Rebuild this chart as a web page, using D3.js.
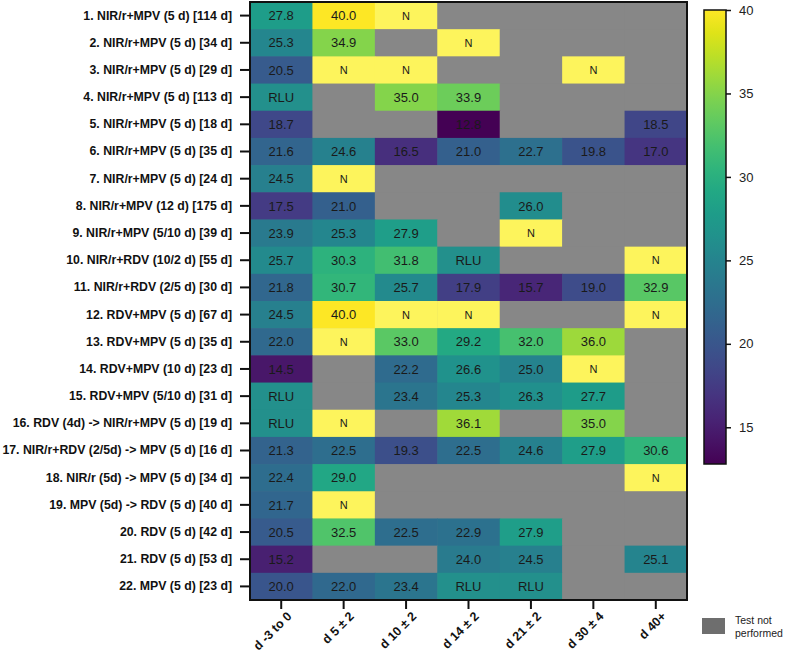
<!DOCTYPE html>
<html>
<head>
<meta charset="utf-8">
<style>
  html, body { margin: 0; padding: 0; background: #fff; }
  svg { display: block; font-family: "Liberation Sans", Arial, sans-serif; }
  .ylab text { font-weight: bold; font-size: 12.3px; fill: #111; }
  .xlab text { font-weight: bold; font-size: 12.5px; fill: #111; }
  .cell text { font-size: 13px; fill: #1a1a1a; }
  .cbar text { font-size: 13px; fill: #222; }
</style>
</head>
<body>
<div id="chart"></div>
<script src="https://d3js.org/d3.v7.min.js"></script>
<script>

var rows = [
  "1. NIR/r+MPV (5 d) [114 d]",
  "2. NIR/r+MPV (5 d) [34 d]",
  "3. NIR/r+MPV (5 d) [29 d]",
  "4. NIR/r+MPV (5 d) [113 d]",
  "5. NIR/r+MPV (5 d) [18 d]",
  "6. NIR/r+MPV (5 d) [35 d]",
  "7. NIR/r+MPV (5 d) [24 d]",
  "8. NIR/r+MPV (12 d) [175 d]",
  "9. NIR/r+MPV (5/10 d) [39 d]",
  "10. NIR/r+RDV (10/2 d) [55 d]",
  "11. NIR/r+RDV (2/5 d) [30 d]",
  "12. RDV+MPV (5 d) [67 d]",
  "13. RDV+MPV (5 d) [35 d]",
  "14. RDV+MPV (10 d) [23 d]",
  "15. RDV+MPV (5/10 d) [31 d]",
  "16. RDV (4d) -> NIR/r+MPV (5 d) [19 d]",
  "17. NIR/r+RDV (2/5d) -> MPV (5 d) [16 d]",
  "18. NIR/r (5d) -> MPV (5 d) [34 d]",
  "19. MPV (5d) -> RDV (5 d) [40 d]",
  "20. RDV (5 d) [42 d]",
  "21. RDV (5 d) [53 d]",
  "22. MPV (5 d) [23 d]"
];

var timepoints = ["d -3 to 0", "d 5 \u00b1 2", "d 10 \u00b1 2", "d 14 \u00b1 2", "d 21 \u00b1 2", "d 30 \u00b1 4", "d 40+"];

// null = test not performed, "N" = negative, "RLU" = reported in RLU
var values = [
  [27.8, 40.0, "N", null, null, null, null],
  [25.3, 34.9, null, "N", null, null, null],
  [20.5, "N", "N", null, null, "N", null],
  ["RLU", null, 35.0, 33.9, null, null, null],
  [18.7, null, null, 12.8, null, null, 18.5],
  [21.6, 24.6, 16.5, 21.0, 22.7, 19.8, 17.0],
  [24.5, "N", null, null, null, null, null],
  [17.5, 21.0, null, null, 26.0, null, null],
  [23.9, 25.3, 27.9, null, "N", null, null],
  [25.7, 30.3, 31.8, "RLU", null, null, "N"],
  [21.8, 30.7, 25.7, 17.9, 15.7, 19.0, 32.9],
  [24.5, 40.0, "N", "N", null, null, "N"],
  [22.0, "N", 33.0, 29.2, 32.0, 36.0, null],
  [14.5, null, 22.2, 26.6, 25.0, "N", null],
  ["RLU", null, 23.4, 25.3, 26.3, 27.7, null],
  ["RLU", "N", null, 36.1, null, 35.0, null],
  [21.3, 22.5, 19.3, 22.5, 24.6, 27.9, 30.6],
  [22.4, 29.0, null, null, null, null, "N"],
  [21.7, "N", null, null, null, null, null],
  [20.5, 32.5, 22.5, 22.9, 27.9, null, null],
  [15.2, null, null, 24.0, 24.5, null, 25.1],
  [20.0, 22.0, 23.4, "RLU", "RLU", null, null]
];

var colorTicks = [15, 20, 25, 30, 35, 40];
var colorDomain = [12.8, 40];

var W = 785, H = 654;
var plot = {left: 250, right: 687, top: 2, bottom: 600};

var svg = d3.select("#chart").append("svg")
    .attr("width", W)
    .attr("height", H);

var x = d3.scaleBand()
    .domain(timepoints)
    .range([plot.left, plot.right]);

var y = d3.scaleBand()
    .domain(rows)
    .range([plot.top, plot.bottom]);

var color = d3.scaleSequential(d3.interpolateViridis).domain(colorDomain);

var cells = [];
values.forEach(function(r, i) {
  r.forEach(function(v, j) {
    cells.push({row: rows[i], col: timepoints[j], v: v});
  });
});

function fillOf(d) {
  if (d.v === null) return "#878787";
  if (d.v === "N") return "#fdf45c";
  if (d.v === "RLU") return "#23908c";
  return color(d.v);
}

// background (not performed)
svg.append("rect")
    .attr("x", plot.left).attr("y", plot.top)
    .attr("width", plot.right - plot.left).attr("height", plot.bottom - plot.top)
    .attr("fill", "#878787");

var cell = svg.append("g").attr("class", "cell")
  .selectAll("g")
  .data(cells)
  .enter().append("g");

cell.append("rect")
    .attr("x", function(d) { return x(d.col); })
    .attr("y", function(d) { return y(d.row); })
    .attr("width", x.bandwidth() + 0.5)
    .attr("height", y.bandwidth() + 0.5)
    .attr("fill", fillOf);

cell.filter(function(d) { return d.v !== null; })
  .append("text")
    .attr("x", function(d) { return x(d.col) + x.bandwidth() / 2; })
    .attr("y", function(d) { return y(d.row) + y.bandwidth() / 2; })
    .attr("dy", "0.36em")
    .attr("text-anchor", "middle")
    .style("font-size", function(d) { return d.v === "N" ? "11px" : null; })
    .text(function(d) { return typeof d.v === "number" ? d.v.toFixed(1) : d.v; });

// frame
svg.append("rect")
    .attr("x", plot.left).attr("y", plot.top)
    .attr("width", plot.right - plot.left).attr("height", plot.bottom - plot.top)
    .attr("fill", "none")
    .attr("stroke", "#111")
    .attr("stroke-width", 2);

// y axis
var yAxis = svg.append("g")
    .attr("class", "ylab")
    .attr("transform", "translate(" + (plot.left - 1) + ",0)")
    .call(d3.axisLeft(y).tickSize(9).tickPadding(8));
yAxis.select(".domain").remove();
yAxis.selectAll(".tick line").attr("stroke", "#111").attr("stroke-width", 2);

// x axis
var xAxis = svg.append("g")
    .attr("class", "xlab")
    .attr("transform", "translate(0," + (plot.bottom + 1) + ")")
    .call(d3.axisBottom(x).tickSize(8).tickPadding(4));
xAxis.select(".domain").remove();
xAxis.selectAll(".tick line").attr("stroke", "#111").attr("stroke-width", 2);
xAxis.selectAll(".tick text")
    .attr("x", 0)
    .attr("y", 0)
    .attr("dy", "0.35em")
    .attr("text-anchor", "end")
    .attr("transform", "translate(8,13) rotate(-45)");

// colour bar
var cb = {x: 704, w: 22, top: 10, bottom: 464};
var cy = d3.scaleLinear().domain(colorDomain).range([cb.bottom, cb.top]);

var defs = svg.append("defs");
var grad = defs.append("linearGradient")
    .attr("id", "vir")
    .attr("x1", "0").attr("y1", "1").attr("x2", "0").attr("y2", "0");
d3.range(0, 1.0001, 0.05).forEach(function(t) {
  grad.append("stop")
      .attr("offset", t)
      .attr("stop-color", d3.interpolateViridis(t));
});

var cbar = svg.append("g").attr("class", "cbar");
cbar.append("rect")
    .attr("x", cb.x).attr("y", cb.top)
    .attr("width", cb.w).attr("height", cb.bottom - cb.top)
    .attr("fill", "url(#vir)")
    .attr("stroke", "#111")
    .attr("stroke-width", 1.5);

var cAxis = cbar.append("g")
    .attr("transform", "translate(" + (cb.x + cb.w) + ",0)")
    .call(d3.axisRight(cy).tickValues(colorTicks).tickSize(5).tickPadding(8));
cAxis.select(".domain").remove();
cAxis.selectAll(".tick line").attr("stroke", "#111").attr("stroke-width", 1.5);

// legend
var lg = svg.append("g").attr("class", "legend");
lg.append("rect")
    .attr("x", 702).attr("y", 618)
    .attr("width", 23).attr("height", 16)
    .attr("fill", "#6e6e6e");
lg.append("text")
    .attr("x", 735).attr("y", 624)
    .style("font-size", "10.5px").style("fill", "#222")
    .selectAll("tspan")
    .data(["Test not", "performed"])
    .enter().append("tspan")
      .attr("x", 735)
      .attr("dy", function(d, i) { return i ? "1.2em" : 0; })
      .text(function(d) { return d; });

</script>
</body>
</html>
